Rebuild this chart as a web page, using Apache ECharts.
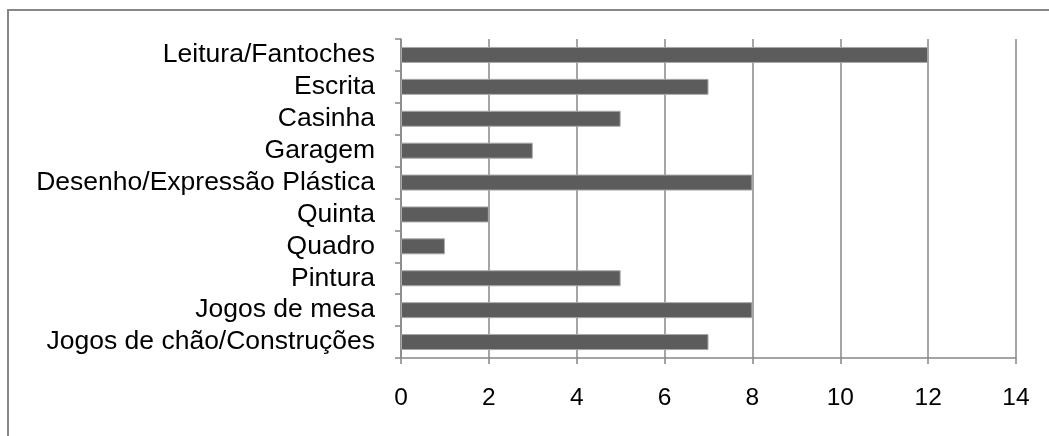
<!DOCTYPE html>
<html>
<head>
<meta charset="utf-8">
<script src="https://cdn.jsdelivr.net/npm/echarts@6/dist/echarts.min.js"></script>
<style>
  html, body { margin: 0; padding: 0; background: #ffffff; }
  #chart { width: 1049px; height: 436px; }
</style>
</head>
<body>
<div id="chart"></div>
<script>
// Activity areas, listed bottom to top as the category axis draws them
const categories = [
  'Jogos de chão/Construções',
  'Jogos de mesa',
  'Pintura',
  'Quadro',
  'Quinta',
  'Desenho/Expressão Plástica',
  'Garagem',
  'Casinha',
  'Escrita',
  'Leitura/Fantoches'
];
const counts = [7, 8, 5, 1, 2, 8, 3, 5, 7, 12];
const xTicks = [0, 2, 4, 6, 8, 10, 12, 14];

const chart = echarts.init(document.getElementById('chart'), null, { renderer: 'canvas' });

const gray = '#878787';

chart.setOption({
  animation: false,
  backgroundColor: '#ffffff',
  graphic: [{
    type: 'rect',
    shape: { x: 8, y: 10, width: 1100, height: 500 },
    style: { fill: 'none', stroke: gray, lineWidth: 2 },
    silent: true,
    z: -1
  }],
  grid: { left: 401, right: 33, top: 39, bottom: 78, containLabel: false },
  xAxis: {
    type: 'value',
    min: xTicks[0],
    max: xTicks[xTicks.length - 1],
    interval: xTicks[1] - xTicks[0],
    axisLine: { show: true, lineStyle: { color: gray, width: 1.5 } },
    axisTick: { show: true, length: 6, lineStyle: { color: gray, width: 1.5 } },
    splitLine: { show: true, lineStyle: { color: gray, width: 1.5 } },
    axisLabel: {
      margin: 28,
      color: '#000000',
      fontFamily: 'Liberation Sans, Arial, sans-serif',
      fontSize: 24.5
    }
  },
  yAxis: {
    type: 'category',
    data: categories,
    axisLine: { show: true, lineStyle: { color: gray, width: 1.5 } },
    axisTick: { show: true, length: 6, lineStyle: { color: gray, width: 1.5 } },
    splitLine: { show: false },
    axisLabel: {
      margin: 26,
      color: '#000000',
      fontFamily: 'Liberation Sans, Arial, sans-serif',
      fontSize: 26.5,
      interval: 0
    }
  },
  series: [{
    type: 'bar',
    data: counts,
    barWidth: 16,
    itemStyle: { color: '#5c5c5c', borderColor: '#a8a8a8', borderWidth: 1 }
  }]
});
</script>
</body>
</html>
